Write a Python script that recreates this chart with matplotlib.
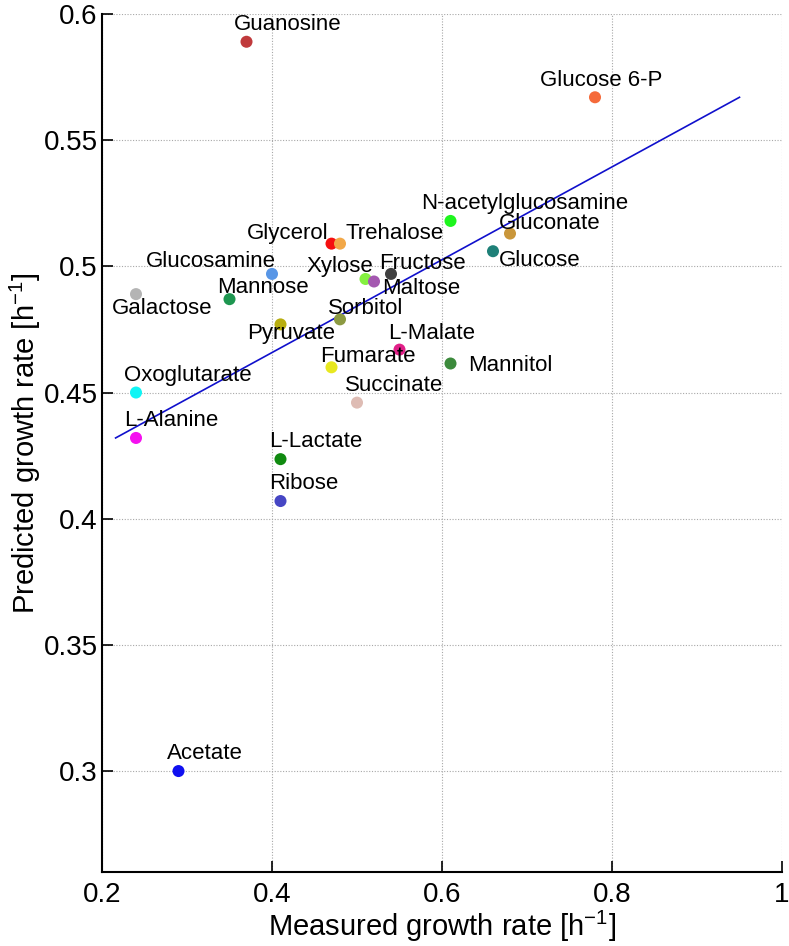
import matplotlib
matplotlib.use("Agg")
import matplotlib.pyplot as plt

plt.rcParams['font.family'] = ['Liberation Sans', 'DejaVu Sans']

names = ["Guanosine", "Glucose 6-P", "N-acetylglucosamine", "Gluconate", "Glucose",
         "Glycerol", "Trehalose", "Glucosamine", "Xylose", "Fructose", "Maltose",
         "Galactose", "Mannose", "Sorbitol", "Pyruvate", "L-Malate", "Fumarate",
         "Mannitol", "Succinate", "Oxoglutarate", "L-Alanine", "L-Lactate",
         "Ribose", "Acetate"]
measured = [0.37, 0.78, 0.61, 0.68, 0.66,
            0.47, 0.48, 0.40, 0.51, 0.54, 0.52,
            0.24, 0.35, 0.48, 0.41, 0.55, 0.47,
            0.61, 0.50, 0.24, 0.24, 0.41,
            0.41, 0.29]
predicted = [0.589, 0.567, 0.518, 0.513, 0.506,
             0.509, 0.509, 0.497, 0.495, 0.497, 0.494,
             0.489, 0.487, 0.479, 0.477, 0.467, 0.460,
             0.4615, 0.446, 0.450, 0.432, 0.4236,
             0.407, 0.300]
colors = ["#C03A3C", "#F56A3A", "#1EF51E", "#C9963A", "#1E8078",
          "#F51010", "#F2A848", "#5896E6", "#84F040", "#404040", "#A458B0",
          "#B4B4B4", "#1E9650", "#8C9A42", "#B8AE10", "#E02088", "#E8E820",
          "#3C8A3C", "#DEBCB4", "#10F5F5", "#F510F0", "#108A10",
          "#4646C4", "#1010F0"]

fit_x = [0.216, 0.95]
fit_y = [0.432, 0.567]

x_ticks = [0.2, 0.4, 0.6, 0.8, 1.0]
x_ticklabels = ["0.2", "0.4", "0.6", "0.8", "1"]
y_ticks = [0.3, 0.35, 0.4, 0.45, 0.5, 0.55, 0.6]
y_ticklabels = ["0.3", "0.35", "0.4", "0.45", "0.5", "0.55", "0.6"]

# label offsets in pixels (left edge, baseline) relative to point
label_offsets = {
    "Guanosine": (-12.7, 11.7), "Glucose 6-P": (-55, 11.7),
    "N-acetylglucosamine": (-29, 11.7), "Gluconate": (-11.4, 5),
    "Glucose": (5.6, -14.3), "Glycerol": (-84.3, 4.7), "Trehalose": (5.3, 4.7),
    "Glucosamine": (-126.3, 6.7), "Xylose": (-59, 6.7), "Fructose": (-12, 5),
    "Maltose": (8.6, -13), "Galactose": (-24.3, -19.6), "Mannose": (-12, 6.4),
    "Sorbitol": (-11.7, 5.7), "Pyruvate": (-33, -14.3), "L-Malate": (-11.6, 10.3),
    "Fumarate": (-11, 5.6), "Mannitol": (17.6, -7.3), "Succinate": (-11.7, 11.6),
    "Oxoglutarate": (-12, 12), "L-Alanine": (-12, 11.6), "L-Lactate": (-11.7, 12),
    "Ribose": (-11.7, 11.7), "Acetate": (-11.6, 11.7),
}

fig = plt.figure(figsize=(7.89, 9.46), dpi=100)
ax = fig.add_axes([102/789, 74/946, 680/789, 858/946])

ax.plot(fit_x, fit_y, color="#1010CC", lw=1.2, zorder=2)
ax.scatter(measured, predicted, s=75, c=colors, edgecolors='none', zorder=3)

for n, xv, yv in zip(names, measured, predicted):
    dx, dy = label_offsets[n]
    ax.annotate(n, (xv, yv), xytext=(dx, dy), textcoords='offset pixels',
                ha='left', va='baseline', fontsize=16, color='black', zorder=4)

ax.set_xlim(0.2, 1.0)
ax.set_ylim(0.26, 0.6)
ax.set_xticks(x_ticks)
ax.set_xticklabels(x_ticklabels)
ax.set_yticks(y_ticks)
ax.set_yticklabels(y_ticklabels)
ax.tick_params(direction='in', length=8, width=1.2, labelsize=20, top=False, right=False)
ax.tick_params(axis='y', pad=3)
ax.tick_params(axis='x', pad=7)
ax.grid(True, color='#A8A8A8', linestyle=(0, (1, 1.5)), linewidth=0.8)
ax.set_axisbelow(True)
for s in ['top', 'right']:
    ax.spines[s].set_visible(False)
for s in ['left', 'bottom']:
    ax.spines[s].set_linewidth(1.5)

ax.set_xlabel("Measured growth rate [h$^{\\mathregular{-1}}$]", fontsize=21, labelpad=1)
ax.set_ylabel("Predicted growth rate [h$^{\\mathregular{-1}}$]", fontsize=21)
ax.yaxis.set_label_coords((43 - 102) / 680, 0.5)

fig.savefig("out.png", dpi=100)
